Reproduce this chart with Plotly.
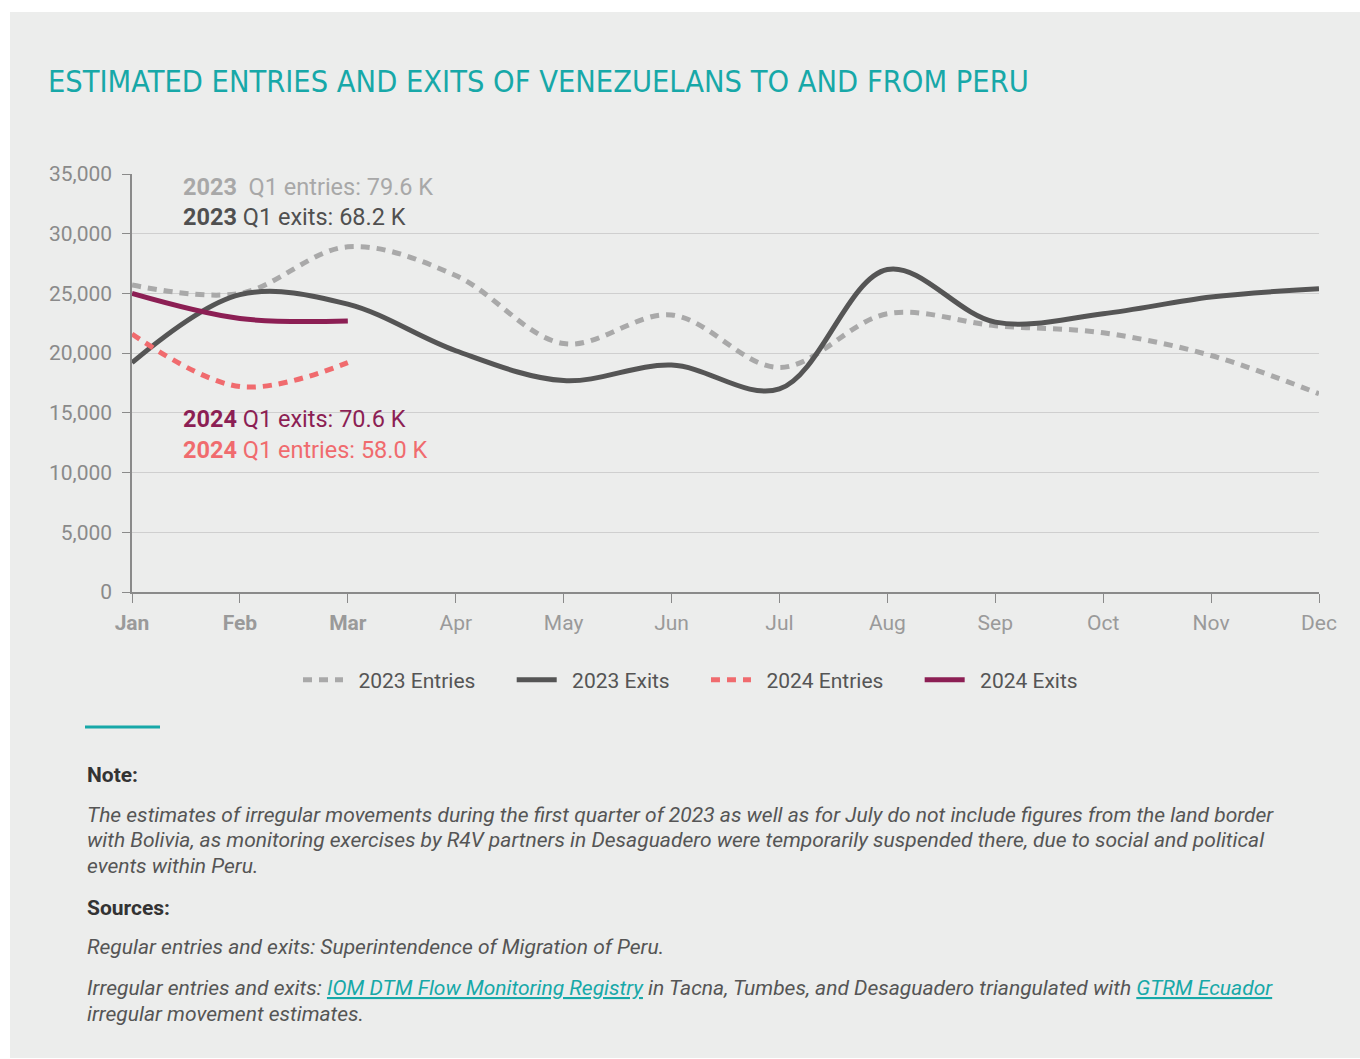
import plotly.graph_objects as go

months = ["Jan", "Feb", "Mar", "Apr", "May", "Jun", "Jul", "Aug", "Sep", "Oct", "Nov", "Dec"]
entries_2023 = [25700, 25000, 28900, 26500, 20800, 23200, 18800, 23300, 22300, 21700, 19800, 16600]
exits_2023 = [19200, 24900, 24100, 20200, 17700, 19000, 17000, 27000, 22600, 23300, 24700, 25400]
months_2024 = ["Jan", "Feb", "Mar"]
entries_2024 = [21600, 17200, 19200]
exits_2024 = [25000, 22900, 22700]
y_ticks = [0, 5000, 10000, 15000, 20000, 25000, 30000, 35000]

BG = "#ECEDEC"
TEAL = "#17A8A8"
FONT = "Roboto"
NB = "\u00a0"

# plot area in screen pixels
L, R, T, B = 132, 1319, 174, 592
W, H = 1360, 1058


def px(x):
    return (x - L) / (R - L)


def py(y):
    return (B - y) / (B - T)


def lname(s):
    return NB * 2 + s + NB * 6


fig = go.Figure()
fig.add_trace(go.Scatter(x=months, y=entries_2023, mode="lines", name=lname("2023 Entries"),
                         line=dict(color="#A9A9A9", width=5, dash="9px,7px", shape="spline")))
fig.add_trace(go.Scatter(x=months, y=exits_2023, mode="lines", name=lname("2023 Exits"),
                         line=dict(color="#555555", width=5, shape="spline")))
fig.add_trace(go.Scatter(x=months_2024, y=entries_2024, mode="lines", name=lname("2024 Entries"),
                         line=dict(color="#F06B6E", width=5, dash="9px,7px", shape="spline")))
fig.add_trace(go.Scatter(x=months_2024, y=exits_2024, mode="lines", name=lname("2024 Exits"),
                         line=dict(color="#8C1F54", width=5, shape="spline")))

tick_text = ["<b>%s</b>" % m if m in months_2024 else m for m in months]

fig.update_xaxes(range=[0, 11], tickmode="array", tickvals=months, ticktext=tick_text,
                 showgrid=False, showline=True, linecolor="#8A8A8A", linewidth=1.5,
                 ticks="outside", ticklen=9, tickcolor="#8A8A8A", ticklabelstandoff=2,
                 tickfont=dict(family=FONT, size=21, color="#9A9A9A"), fixedrange=True)
fig.update_yaxes(range=[0, 35000], tickvals=y_ticks, tickformat=",",
                 showgrid=True, gridcolor="#CFCFCF", gridwidth=1,
                 showline=True, linecolor="#8A8A8A", linewidth=1.5,
                 ticks="outside", ticklen=8, tickcolor="#8A8A8A", zeroline=False,
                 ticklabelstandoff=6,
                 tickfont=dict(family=FONT, size=21, color="#8A8A8A"))

shapes = [
    dict(type="rect", xref="paper", yref="paper", x0=px(10), x1=px(1362), y0=py(1058), y1=py(12),
         fillcolor=BG, line=dict(width=0), layer="below"),
    dict(type="line", xref="paper", yref="paper", x0=px(85), x1=px(160), y0=py(727), y1=py(727),
         line=dict(color=TEAL, width=3)),
]

link = "<a href='%s' style='color:" + TEAL + ";text-decoration:underline'>%s</a>"
note_lines = [
    ("<b>Note:</b>", 775, "#333333"),
    ("<i>The estimates of irregular movements during the first quarter of 2023 as well as for July do not include figures from the land border</i>", 815, "#555555"),
    ("<i>with Bolivia, as monitoring exercises by R4V partners in Desaguadero were temporarily suspended there, due to social and political</i>", 840, "#555555"),
    ("<i>events within Peru.</i>", 866, "#555555"),
    ("<b>Sources:</b>", 908, "#333333"),
    ("<i>Regular entries and exits: Superintendence of Migration of Peru.</i>", 947, "#555555"),
    ("<i>Irregular entries and exits: " + link % ("https://dtm.iom.int", "IOM DTM Flow Monitoring Registry")
     + " in Tacna, Tumbes, and Desaguadero triangulated with " + link % ("https://www.r4v.info", "GTRM Ecuador") + "</i>",
     988, "#555555"),
    ("<i>irregular movement estimates.</i>", 1014, "#555555"),
]

annotations = [
    dict(text="ESTIMATED ENTRIES AND EXITS OF VENEZUELANS TO AND FROM PERU", x=px(46), y=py(82),
         font=dict(family="Liberation Sans Narrow, DejaVu Sans Condensed", size=30.5, color=TEAL)),
    dict(text="<b>2023</b>  Q1 entries: 79.6 K", x=px(181), y=py(187),
         font=dict(family=FONT, size=23.5, color="#A8A8A8")),
    dict(text="<b>2023</b> Q1 exits: 68.2 K", x=px(181), y=py(217),
         font=dict(family=FONT, size=23.5, color="#505050")),
    dict(text="<b>2024</b> Q1 exits: 70.6 K", x=px(181), y=py(419),
         font=dict(family=FONT, size=23.5, color="#8C1F54")),
    dict(text="<b>2024</b> Q1 entries: 58.0 K", x=px(181), y=py(450),
         font=dict(family=FONT, size=23.5, color="#F06B6E")),
]
for txt, yy, col in note_lines:
    annotations.append(dict(text=txt, x=px(85), y=py(yy), font=dict(family=FONT, size=21, color=col)))
for a in annotations:
    a.update(xref="paper", yref="paper", xanchor="left", yanchor="middle", showarrow=False, align="left")

fig.update_layout(
    width=W, height=H,
    margin=dict(l=L, r=W - R, t=T, b=H - B),
    paper_bgcolor="white", plot_bgcolor=BG,
    font=dict(family=FONT, color="#555555"),
    shapes=shapes, annotations=annotations,
    legend=dict(orientation="h", x=px(298), y=py(680), xanchor="left", yanchor="middle",
                font=dict(family=FONT, size=21, color="#555555"), bgcolor="rgba(0,0,0,0)",
                itemwidth=40),
    showlegend=True,
)

fig.write_html("out.html", config={"displayModeBar": False},
               post_script="document.body.style.margin='0';document.body.style.overflow='hidden';")
